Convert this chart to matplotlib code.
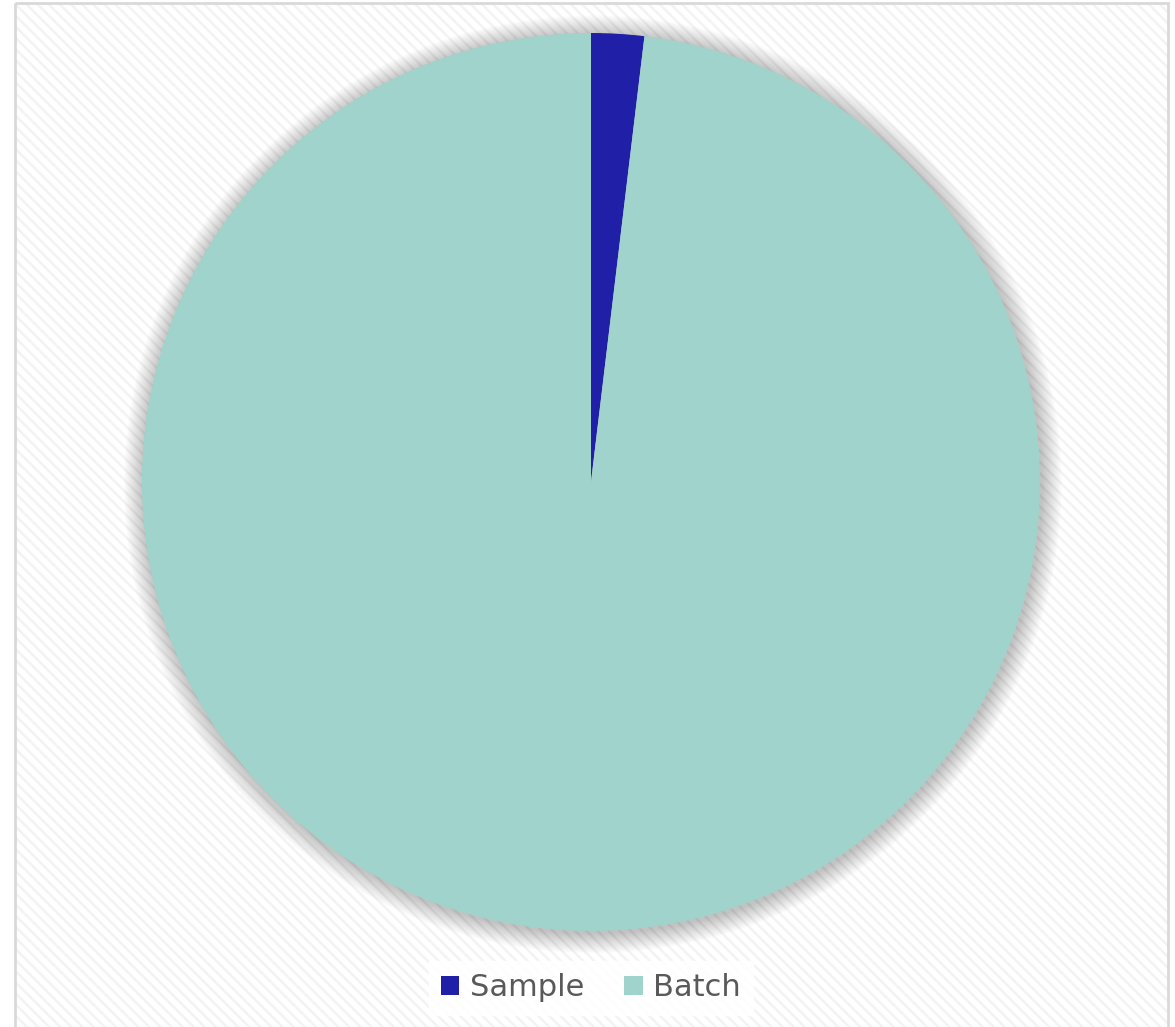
import matplotlib
matplotlib.use("Agg")
import matplotlib.pyplot as plt
from matplotlib.patches import Rectangle, Circle

# data
labels = ["Sample", "Batch"]
values = [1.9, 98.1]
colors = ["#1f1fa8", "#9fd3cb"]

W, H = 1175, 1027
fig = plt.figure(figsize=(W / 100, H / 100), dpi=100)
fig.patch.set_facecolor("white")

# background axes: hatched panel with light border
plt.rcParams["hatch.linewidth"] = 1.8
bgax = fig.add_axes([0, 0, 1, 1], zorder=-1)
bgax.set_xlim(0, W)
bgax.set_ylim(H, 0)
bgax.axis("off")
bgax.add_patch(Rectangle((15, 3), 1168 - 15, H, facecolor="white", edgecolor="#f3f3f3",
                         hatch="\\\\\\", lw=0))
bgax.add_patch(Rectangle((15, 3), 1168 - 15, H + 10, facecolor="none", edgecolor="#d9d9d9",
                         lw=2))

# pie axes, centre (591, 482) radius 449 px
cx, cy, r = 591, 482, 449
ax = fig.add_axes([(cx - r) / W, (H - cy - r) / H, 2 * r / W, 2 * r / H])
ax.axis("off")

# soft shadow
n = 30
for k in range(n):
    ax.add_patch(Circle((0.004, -0.005), 1 + 0.0015 * (n - k), facecolor="black",
                        edgecolor="none", alpha=0.0075, zorder=1, clip_on=False))

wedges, _ = ax.pie(values, colors=colors, startangle=90, counterclock=False,
                   radius=1, wedgeprops=dict(linewidth=0))
for w in wedges:
    w.set_zorder(2)
ax.set_xlim(-1, 1)
ax.set_ylim(-1, 1)
ax.set_aspect("equal")

leg = fig.legend(wedges, labels, loc="center", bbox_to_anchor=(591 / W, 1 - 988 / H),
                 ncol=2, frameon=True, fancybox=False, fontsize=22,
                 handlelength=0.6, handleheight=0.6, handletextpad=0.35,
                 columnspacing=1.3, borderpad=0.4)
leg.get_frame().set_facecolor("white")
leg.get_frame().set_edgecolor("white")
leg.get_frame().set_alpha(0.9)
for t in leg.get_texts():
    t.set_color("#595959")

fig.savefig("out.png", dpi=100)
